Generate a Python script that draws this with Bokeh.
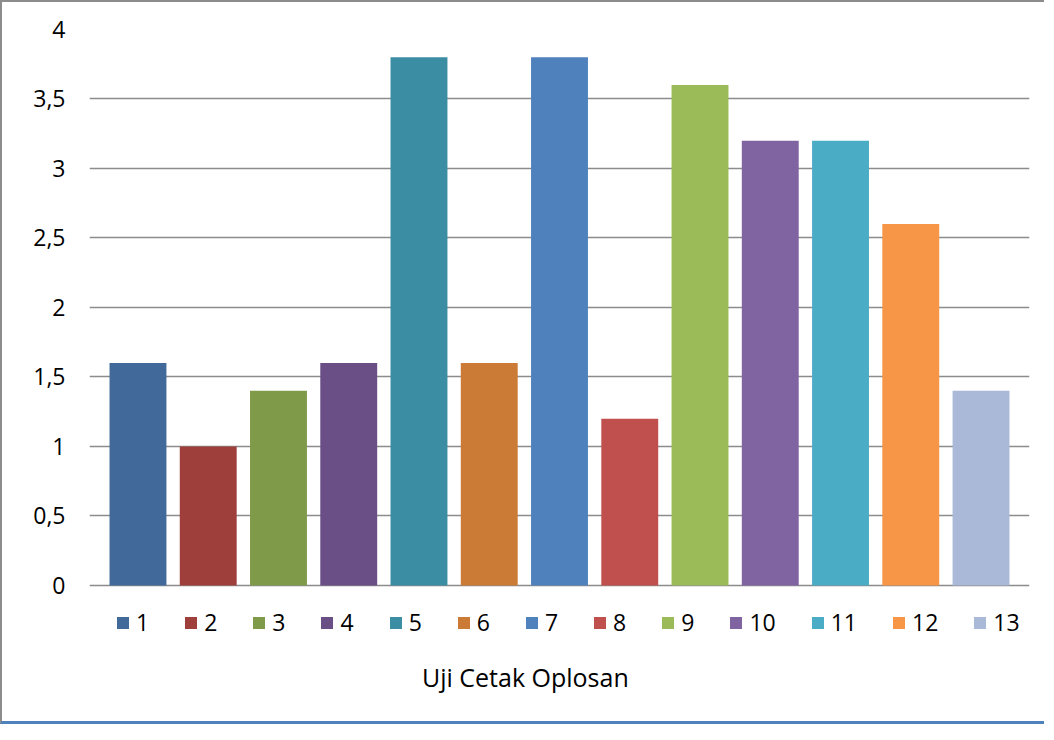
from bokeh.plotting import figure
from bokeh.models import FactorRange, Range1d, Legend, LegendItem, Label, FixedTicker
from bokeh.embed import file_html
from bokeh.resources import INLINE

categories = ["1", "2", "3", "4", "5", "6", "7", "8", "9", "10", "11", "12", "13"]
values = [1.6, 1.0, 1.4, 1.6, 3.8, 1.6, 3.8, 1.2, 3.6, 3.2, 3.2, 2.6, 1.4]
colors = ["#416A9B", "#9E3F3C", "#7F9A48", "#694F86", "#3B8DA3", "#CC7B37",
          "#4F81BD", "#C0504D", "#9BBB59", "#8064A2", "#4BACC6", "#F79646", "#AAB9D7"]
y_ticks = [0, 0.5, 1, 1.5, 2, 2.5, 3, 3.5, 4]
y_tick_labels = ["0", "0,5", "1", "1,5", "2", "2,5", "3", "3,5", "4"]
x_title = "Uji Cetak  Oplosan"

FONT = "Open Sans"

p = figure(width=1044, height=724,
           x_range=FactorRange(*categories, range_padding=0.19, range_padding_units="absolute"),
           y_range=Range1d(-0.986, 4),
           x_axis_location=None,
           output_backend="svg", toolbar_location=None,
           min_border_left=87, min_border_top=27, min_border_right=17, min_border_bottom=4,
           styles={"border-left": "2px solid #8c8c8c", "border-top": "2px solid #8c8c8c",
                   "border-bottom": "3px solid #4f81bd"})
p.outline_line_color = None

items = []
for c, v, col in zip(categories, values, colors):
    r = p.vbar(x=[c], top=[v], width=0.81, fill_color=col, line_color=None)
    items.append(LegendItem(label=c, renderers=[r]))

p.xgrid.grid_line_color = None
p.ygrid.grid_line_color = "#8c8c8c"
p.ygrid.grid_line_width = 1.6
p.ygrid.ticker = FixedTicker(ticks=y_ticks)

p.yaxis.ticker = FixedTicker(ticks=y_ticks)
p.yaxis.major_label_overrides = {t: l for t, l in zip(y_ticks, y_tick_labels)}
p.yaxis.axis_line_color = None
p.yaxis.major_tick_line_color = None
p.yaxis.minor_tick_line_color = None
p.yaxis.major_label_standoff = 18
p.yaxis.major_label_text_font = FONT
p.yaxis.major_label_text_font_size = "23px"
p.yaxis.major_label_text_color = "#000000"

legend = Legend(items=items, orientation="horizontal", location=(26, 84),
                glyph_width=15, glyph_height=15, label_height=15, label_width=0,
                label_standoff=6, spacing=34, padding=0, margin=0,
                border_line_color=None, background_fill_alpha=0,
                label_text_font=FONT, label_text_font_size="23px",
                label_text_color="#000000", label_text_baseline="middle")
p.add_layout(legend, "center")

title = Label(x=6.06, y=-0.658, text=x_title, text_align="center", text_baseline="alphabetic",
              text_font=FONT, text_font_size="25px", text_color="#000000")
p.add_layout(title)

open("out.html", "w").write(file_html(p, INLINE))
